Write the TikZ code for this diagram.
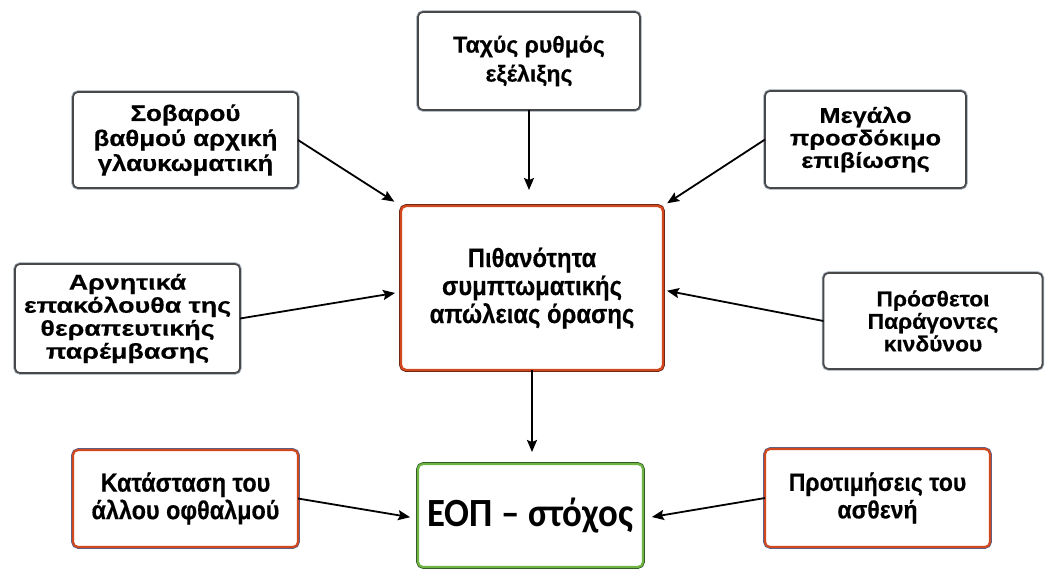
\documentclass[tikz,border=0pt]{standalone}
\usepackage{fontspec}
\setmainfont{Liberation Sans}
% bold faces: plain, widened for the crowded boxes, narrowed for the tall ones
\newfontface\faceN[FakeBold=0.4]{Liberation Sans Bold}
\newfontface\faceS[FakeStretch=1.15,FakeBold=0.4]{Liberation Sans Bold}
\newfontface\faceM[FakeStretch=1.18,FakeBold=0.4]{Liberation Sans Bold}
\newfontface\faceA[FakeStretch=1.25,FakeBold=0.4]{Liberation Sans Bold}
\newfontface\faceP[FakeStretch=1.06,FakeBold=0.4]{Liberation Sans Bold}
\newfontface\faceC[FakeStretch=0.9,FakeBold=0.4]{Liberation Sans Bold}
\newfontface\faceK[FakeStretch=0.92,FakeBold=0.4]{Liberation Sans Bold}
\newfontface\goalface[FakeStretch=0.92]{Carlito Bold}
\usetikzlibrary{arrows.meta}
\definecolor{edgegray}{RGB}{72,72,72}
\definecolor{rimgray}{RGB}{150,162,176}
\definecolor{boxred}{RGB}{209,72,30}
\definecolor{rimblue}{RGB}{80,100,150}
\definecolor{rimdark}{RGB}{100,36,18}
\definecolor{boxgreen}{RGB}{110,180,66}
\definecolor{rimgreen}{RGB}{45,80,35}
\newcommand{\fs}[3]{#1\fontsize{#2}{#3}\selectfont}
\begin{document}
\begin{tikzpicture}[x=1pt,y=-1pt,
  box/.style={rounded corners=5pt, fill=white, align=center, text=black,
    inner sep=0pt, outer sep=0pt},
  graybox/.style={box, draw=edgegray, line width=1.6pt,
    preaction={draw=rimgray, line width=3.4pt}},
  redbox/.style={box, draw=boxred, line width=2.2pt,
    preaction={draw=rimblue, line width=3.6pt}},
  centerbox/.style={box, draw=boxred, line width=2.4pt,
    preaction={draw=rimdark, line width=3.8pt}},
  greenbox/.style={box, draw=boxgreen, line width=2.2pt,
    preaction={draw=rimgreen, line width=3.6pt}},
  link/.style={line width=1.8pt, draw=black,
    -{Stealth[length=12pt,width=10pt,inset=2pt]}}
]
\useasboundingbox (0,0) rectangle (1047,571);

% factor boxes
\node[graybox, minimum width=222pt, minimum height=98pt, font=\fs{\faceN}{23}{29}]
  (rate) at (529,61) {Ταχύς ρυθμός\\εξέλιξης};
\node[graybox, minimum width=225pt, minimum height=96pt, font=\fs{\faceS}{22.5}{25}]
  (sev) at (185.5,140) {Σοβαρού\\βαθμού αρχική\\γλαυκωματική};
\node[graybox, minimum width=201pt, minimum height=97pt, font=\fs{\faceM}{21.5}{22.5}]
  (life) at (865.5,139.5) {Μεγάλο\\προσδόκιμο\\επιβίωσης};
\node[graybox, minimum width=225pt, minimum height=109pt, font=\fs{\faceA}{21.5}{23}]
  (neg) at (127.5,318.5) {Αρνητικά\\επακόλουθα της\\θεραπευτικής\\παρέμβασης};
\node[graybox, minimum width=219pt, minimum height=96pt, font=\fs{\faceP}{21.5}{22.5}]
  (add) at (933,321) {Πρόσθετοι\\Παράγοντες\\κινδύνου};
\node[redbox, minimum width=225pt, minimum height=97pt, font=\fs{\faceC}{26}{27.5}]
  (other) at (185.5,498.5) {Κατάσταση του\\άλλου οφθαλμού};
\node[redbox, minimum width=225pt, minimum height=98pt, font=\fs{\faceK}{25}{27.5}]
  (pref) at (877.5,498) {Προτιμήσεις του\\ασθενή};

% central boxes
\node[centerbox, minimum width=262pt, minimum height=164pt, font=\fs{\faceC}{26.5}{28}]
  (risk) at (532,288) {Πιθανότητα\\συμπτωματικής\\απώλειας όρασης};
\node[greenbox, minimum width=225pt, minimum height=103pt,
  font=\fs{\goalface}{40}{42}]
  (goal) at (530.5,515.5) {ΕΟΠ – στόχος};

% connectors
\draw[link, shorten >=16pt] (rate.south) -- (rate.south |- risk.north);
\draw[link, shorten >=8pt] (sev.east) -- (risk.north west);
\draw[link, shorten >=5pt] (life.west) -- (risk.north east);
\draw[link, shorten >=6pt] (neg.east) -- ([yshift=-4pt]risk.west);
\draw[link, shorten >=4pt] (add.west) -- ([yshift=-2pt]risk.east);
\draw[link, shorten >=12pt] (risk.south) -- (risk.south |- goal.north);
\draw[link, shorten >=8pt] (other.east) -- ([yshift=-3pt]goal.west);
\draw[link, shorten >=9pt] (pref.west) -- ([yshift=-3pt]goal.east);
\end{tikzpicture}
\end{document}
